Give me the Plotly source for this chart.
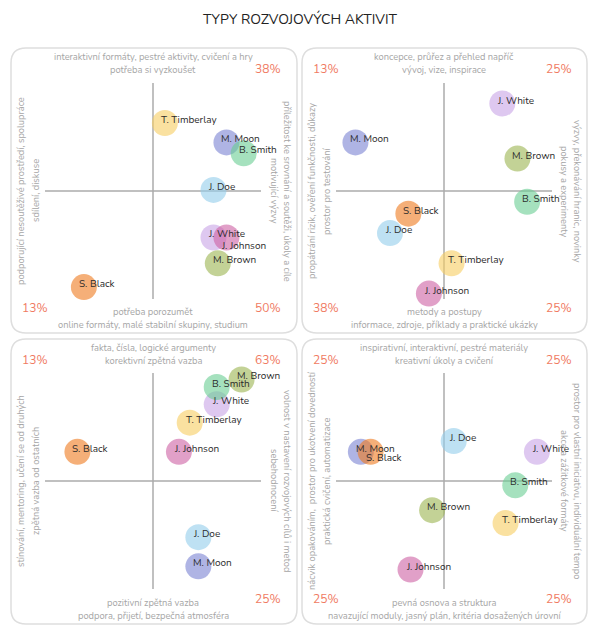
import plotly.graph_objects as go

W, H = 600, 633
OFF = 8  # default page margin of the html body
TITLE = "TYPY ROZVOJOVÝCH AKTIVIT"

names = ["J. Doe", "J. White", "J. Johnson", "M. Brown", "M. Moon", "B. Smith", "T. Timberlay", "S. Black"]
colors = ["rgb(147,205,235)", "rgb(200,163,230)", "rgb(205,97,163)", "rgb(155,180,80)",
          "rgb(122,130,210)", "rgb(105,205,147)", "rgb(247,205,97)", "rgb(238,122,30)"]

# values per panel, order as in `names`
p1_x = [0.56, 0.56, 0.68, 0.60, 0.68, 0.84, 0.11, -0.64]
p1_y = [0.01, -0.43, -0.43, -0.67, 0.45, 0.35, 0.63, -0.89]
p2_x = [-0.50, 0.54, -0.14, 0.68, -0.82, 0.77, 0.07, -0.33]
p2_y = [-0.39, 0.81, -0.95, 0.30, 0.45, -0.10, -0.67, -0.21]
p3_x = [0.42, 0.59, 0.24, 0.82, 0.42, 0.59, 0.34, -0.70]
p3_y = [-0.52, 0.71, 0.27, 0.94, -0.79, 0.87, 0.54, 0.27]
p4_x = [0.09, 0.86, -0.31, -0.11, -0.77, 0.66, 0.57, -0.68]
p4_y = [0.37, 0.27, -0.82, -0.27, 0.27, -0.04, -0.39, 0.27]

top_labels = [("interaktivní formáty, pestré aktivity, cvičení a hry", "potřeba si vyzkoušet"),
              ("koncepce, průřez a přehled napříč", "vývoj, vize, inspirace"),
              ("fakta, čísla, logické argumenty", "korektivní zpětná vazba"),
              ("inspirativní, interaktivní, pestré materiály", "kreativní úkoly a cvičení")]
bottom_labels = [("potřeba porozumět", "online formáty, malé stabilní skupiny, studium"),
                 ("metody a postupy", "informace, zdroje, příklady a praktické ukázky"),
                 ("pozitivní zpětná vazba", "podpora, přijetí, bezpečná atmosféra"),
                 ("pevná osnova a struktura", "navazující moduly, jasný plán, kritéria dosažených úrovní")]
left_labels = [("podporující nesoutěživé prostředí, spolupráce", "sdílení, diskuse"),
               ("propátrání rizik, ověření funkčnosti, důkazy", "prostor pro testování"),
               ("stínování, mentoring, učení se od druhých", "zpětná vazba od ostatních"),
               ("nácvik opakováním,  prostor pro ukotvení dovedností", "praktická cvičení, automatizace")]
right_labels = [("příležitost ke srovnání a soutěži, úkoly a cíle", "motivující výzvy"),
                ("výzvy, překonávání hranic, novinky", "pokusy a experimenty"),
                ("volnost v nastavení rozvojových cílů i metod", "sebehodnocení"),
                ("prostor pro vlastní iniciativu, individuální tempo", "akce a zážitkové formáty")]
# quadrant shares: top-left, top-right, bottom-left, bottom-right
quadrants = [[None, "38%", "13%", "50%"],
             ["13%", "25%", "38%", "25%"],
             ["13%", "63%", None, "25%"],
             ["25%", "25%", "25%", "25%"]]

panels_x = [p1_x, p2_x, p3_x, p4_x]
panels_y = [p1_y, p2_y, p3_y, p4_y]

# ---- layout geometry (pixels of the page) ----
FONT = "Nunito, Lato, sans-serif"
GRAY = "#a6a6a6"
PCT = "#f07a62"
boxes = [(11, 48, 297, 333), (302, 48, 587, 333), (11, 339, 297, 624), (302, 339, 587, 624)]
centers = [(153, 191), (444, 191), (153, 481), (444, 481)]
HALF = 108
label_nudge = {(0, "J. Johnson"): -9, (3, "S. Black"): -6}

FW, FH = W - 2 * OFF, H - 2 * OFF


def fx(px):
    return (px - OFF) / FW


def fy(py):
    return 1 - (py - OFF) / FH


fig = go.Figure()
shapes = []
annotations = []

annotations.append(dict(text=TITLE, x=fx(300), y=fy(20), xref="paper", yref="paper",
                        showarrow=False, xanchor="center", yanchor="middle",
                        font=dict(family=FONT, size=14, color="#222")))

for i in range(4):
    ax = "" if i == 0 else str(i + 1)
    cx, cy = centers[i]
    xd = [fx(cx - HALF), fx(cx + HALF)]
    yd = [fy(cy + HALF), fy(cy - HALF)]
    fig.update_layout(**{
        "xaxis" + ax: dict(domain=xd, range=[-1, 1], visible=False, fixedrange=True),
        "yaxis" + ax: dict(domain=yd, range=[-1, 1], visible=False, fixedrange=True),
    })
    xr, yr = "x" + ax, "y" + ax
    # panel box (rounded)
    x0, y0, x1, y1 = boxes[i]
    r = 15
    pts = [("M", (x0 + r, y0)), ("L", (x1 - r, y0)), ("Q", (x1, y0), (x1, y0 + r)),
           ("L", (x1, y1 - r)), ("Q", (x1, y1), (x1 - r, y1)), ("L", (x0 + r, y1)),
           ("Q", (x0, y1), (x0, y1 - r)), ("L", (x0, y0 + r)), ("Q", (x0, y0), (x0 + r, y0))]
    path = ""
    for p in pts:
        cmd = p[0]
        coords = " ".join(f"{fx(a):.5f},{fy(b):.5f}" for a, b in p[1:])
        path += f"{cmd} {coords} "
    path += "Z"
    shapes.append(dict(type="path", path=path, xref="paper", yref="paper",
                       line=dict(color="#dedede", width=1.5), layer="below"))
    # cross axes
    shapes.append(dict(type="line", xref=xr, yref=yr, x0=0, x1=0, y0=-1, y1=1,
                       line=dict(color="#ababab", width=1.5), layer="below"))
    shapes.append(dict(type="line", xref=xr, yref=yr, x0=-1, x1=1, y0=0, y1=0,
                       line=dict(color="#ababab", width=1.5), layer="below"))
    # bubbles
    for k, nm in enumerate(names):
        fig.add_trace(go.Scatter(x=[panels_x[i][k]], y=[panels_y[i][k]], mode="markers",
                                 xaxis=xr, yaxis=yr, showlegend=False, hoverinfo="text", text=[nm],
                                 cliponaxis=False,
                                 marker=dict(size=26, color=colors[k], opacity=0.6, line=dict(width=0))))
    for k, nm in enumerate(names):
        annotations.append(dict(text=nm, x=panels_x[i][k], y=panels_y[i][k], xref=xr, yref=yr,
                                showarrow=False, xanchor="left", yanchor="middle",
                                xshift=-7, yshift=label_nudge.get((i, nm), 3),
                                font=dict(family=FONT, size=10, color="#2b2b2b")))
    # side texts
    tf = dict(family=FONT, size=9.3, color=GRAY)
    bx0, by0, bx1, by1 = boxes[i]
    top_o, top_i = top_labels[i]
    annotations.append(dict(text=top_o, x=fx(cx), y=fy(by0 + 9), xref="paper", yref="paper",
                            showarrow=False, font=tf, xanchor="center", yanchor="middle"))
    annotations.append(dict(text=top_i, x=fx(cx), y=fy(by0 + 22), xref="paper", yref="paper",
                            showarrow=False, font=tf, xanchor="center", yanchor="middle"))
    bot_i, bot_o = bottom_labels[i]
    annotations.append(dict(text=bot_i, x=fx(cx), y=fy(by1 - 21), xref="paper", yref="paper",
                            showarrow=False, font=tf, xanchor="center", yanchor="middle"))
    annotations.append(dict(text=bot_o, x=fx(cx), y=fy(by1 - 8), xref="paper", yref="paper",
                            showarrow=False, font=tf, xanchor="center", yanchor="middle"))
    l_o, l_i = left_labels[i]
    annotations.append(dict(text=l_o, x=fx(bx0 + 10), y=fy(cy), xref="paper", yref="paper",
                            showarrow=False, font=tf, textangle=-90, xanchor="center", yanchor="middle"))
    annotations.append(dict(text=l_i, x=fx(bx0 + 25), y=fy(cy), xref="paper", yref="paper",
                            showarrow=False, font=tf, textangle=-90, xanchor="center", yanchor="middle"))
    r_o, r_i = right_labels[i]
    annotations.append(dict(text=r_o, x=fx(bx1 - 10), y=fy(cy), xref="paper", yref="paper",
                            showarrow=False, font=tf, textangle=90, xanchor="center", yanchor="middle"))
    annotations.append(dict(text=r_i, x=fx(bx1 - 23), y=fy(cy), xref="paper", yref="paper",
                            showarrow=False, font=tf, textangle=90, xanchor="center", yanchor="middle"))
    # quadrant percentages
    qpos = [(bx0 + 24, by0 + 21), (bx0 + 257, by0 + 21), (bx0 + 24, by1 - 25), (bx0 + 257, by1 - 25)]
    for q, val in enumerate(quadrants[i]):
        if val is None:
            continue
        px, py = qpos[q]
        annotations.append(dict(text=val, x=fx(px), y=fy(py), xref="paper", yref="paper",
                                showarrow=False, xanchor="center", yanchor="middle",
                                font=dict(family=FONT, size=12, color=PCT)))

fig.update_layout(width=FW, height=FH, autosize=False, margin=dict(l=0, r=0, t=0, b=0),
                  paper_bgcolor="white", plot_bgcolor="rgba(0,0,0,0)",
                  shapes=shapes, annotations=annotations, showlegend=False)
fig.write_html("out.html", config={"displayModeBar": False})
